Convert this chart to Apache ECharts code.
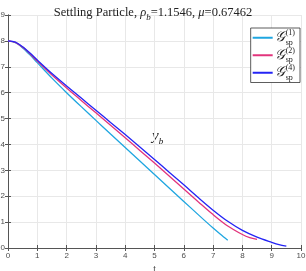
<!DOCTYPE html>
<html><head><meta charset="utf-8">
<script src="https://cdn.jsdelivr.net/npm/echarts@6/dist/echarts.min.js"></script>
<style>html,body{margin:0;padding:0;background:#fff}#c{width:306px;height:271px}</style>
</head><body><div id="c"></div>
<script>
var tG1 = [0,0.25,0.5,0.75,1,1.5,2,2.5,3,3.5,4,4.5,5,5.5,6,6.5,7,7.25,7.5];
var yG1 = [8,7.93,7.73,7.46,7.16,6.56,6.00,5.46,4.93,4.40,3.88,3.36,2.84,2.32,1.80,1.28,0.77,0.53,0.30];
var tG2 = [0,0.25,0.5,0.75,1,1.5,2,2.5,3,3.5,4,4.5,5,5.5,6,6.5,7,7.5,8,8.25,8.5];
var yG2 = [8,7.94,7.75,7.50,7.22,6.68,6.18,5.70,5.22,4.74,4.26,3.77,3.28,2.78,2.28,1.78,1.29,0.85,0.52,0.40,0.33];
var tG4 = [0,0.25,0.5,0.75,1,1.5,2,2.5,3,3.5,4,4.5,5,5.5,6,6.5,7,7.5,8,8.5,9,9.25,9.5];
var yG4 = [8,7.95,7.77,7.53,7.26,6.74,6.26,5.79,5.32,4.85,4.38,3.90,3.42,2.93,2.44,1.94,1.46,1.03,0.68,0.42,0.22,0.13,0.07];
var seriesNames = ['G1','G2','G4'];
var legendSup = {G1:'(1)', G2:'(2)', G4:'(4)'};
var colors = ['#1fa6e0','#e2347c','#2424f5'];

function pairs(t,y){return t.map(function(v,i){return [v,y[i]];});}
var chart = echarts.init(document.getElementById('c'));
var axisCol = '#4d4d4d';
var serif = '"Liberation Serif","DejaVu Serif",serif';
var sans = '"Liberation Sans","DejaVu Sans",sans-serif';
var baseAxis = {
  type:'value', axisLine:{show:true,lineStyle:{color:'#555',width:1}},
  axisTick:{show:true,inside:true,length:3,lineStyle:{color:'#555'}},
  splitLine:{show:true,lineStyle:{color:'#e8e8e8',width:1}},
  axisLabel:{color:axisCol,fontSize:8,fontFamily:sans}
};
var data = [pairs(tG1,yG1), pairs(tG2,yG2), pairs(tG4,yG4)];
chart.setOption({
  animation:false,
  title:{text:'Settling Particle, {i|ρ}{s|b}=1.1546, {i|μ}=0.67462', left:'center', top:-1,
    textStyle:{fontFamily:serif,fontSize:12.5,fontWeight:'normal',color:'#222',
      rich:{i:{fontFamily:serif,fontStyle:'italic',fontSize:12.5,color:'#222'},
            s:{fontFamily:serif,fontStyle:'italic',fontSize:9,color:'#222',verticalAlign:'bottom',lineHeight:18}}}},
  grid:{left:8,right:5,top:15,bottom:23,containLabel:false,outerBoundsMode:'none'},
  xAxis:[Object.assign({},baseAxis,{min:0,max:10,interval:1,position:'bottom',
          name:'t',nameLocation:'middle',nameGap:12,nameTextStyle:{color:axisCol,fontSize:9,fontFamily:sans},
          axisLabel:Object.assign({},baseAxis.axisLabel,{margin:4})}),
         Object.assign({},baseAxis,{min:0,max:10,interval:1,position:'top',axisLabel:{show:false},splitLine:{show:false}})],
  yAxis:[Object.assign({},baseAxis,{min:0,max:9,interval:1,position:'left',axisLabel:Object.assign({},baseAxis.axisLabel,{margin:3})}),
         Object.assign({},baseAxis,{min:0,max:9,interval:1,position:'right',axisLabel:{show:false},splitLine:{show:false}})],
  legend:{right:6,top:28,orient:'vertical',itemWidth:20,itemHeight:2,itemGap:0,
    backgroundColor:'#fff',borderColor:'#333',borderWidth:0.8,borderRadius:0,padding:[1,5,1,2],
    icon:'rect',
    formatter:function(n){return '{g|𝒢}{sub|sp}{sup|'+legendSup[n]+'}';},
    textStyle:{fontFamily:serif,fontSize:11,color:'#222',padding:[0,0,0,-3],
      rich:{g:{fontFamily:serif,fontSize:14,fontStyle:'italic',lineHeight:17.5,color:'#222',padding:[0,1,0,0]},
            sub:{fontFamily:serif,fontSize:8,verticalAlign:'bottom',lineHeight:17.5,width:0,color:'#222'},
            sup:{fontFamily:serif,fontSize:8,verticalAlign:'top',lineHeight:17.5,color:'#222'}}}},
  graphic:[{type:'text',left:152,top:129,style:{text:'{i|y}{s|b}',
     rich:{i:{fontFamily:serif,fontStyle:'italic',fontSize:15,fill:'#111'},
           s:{fontFamily:serif,fontStyle:'italic',fontSize:9,fill:'#111',verticalAlign:'bottom',lineHeight:19}}}}],
  series:seriesNames.map(function(n,i){return {name:n,type:'line',data:data[i],showSymbol:false,symbol:'none',smooth:0.3,
     lineStyle:{color:colors[i],width:1.3},itemStyle:{color:colors[i]},z:2+i};})
});
</script></body></html>
